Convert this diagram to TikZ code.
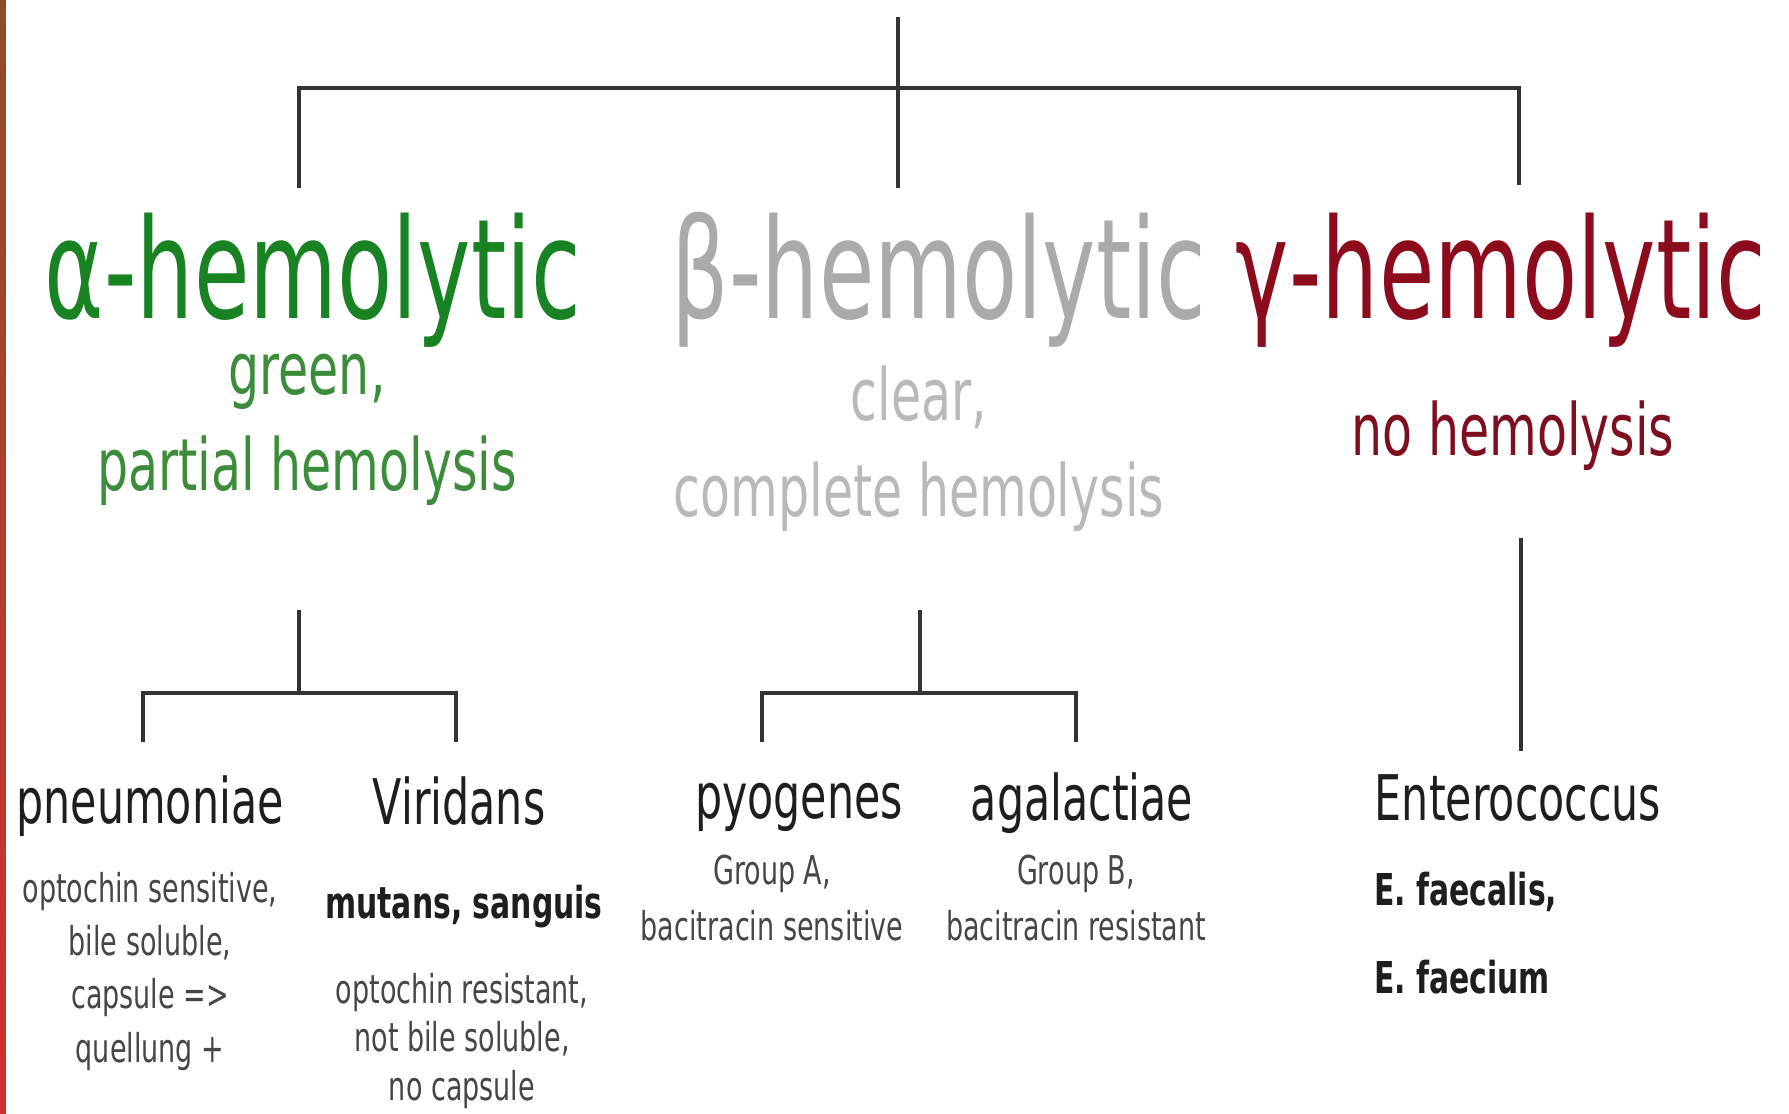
\documentclass[tikz,border=0pt]{standalone}
\usepackage{fontspec}
\usepackage{tikz}
\newfontfamily\hemofont[FakeStretch=0.65]{DejaVu Sans}
\newfontfamily\descfont[FakeStretch=0.68]{DejaVu Sans}
\definecolor{alphagreen}{RGB}{25,130,35}
\definecolor{alphasub}{RGB}{60,140,60}
\definecolor{betagray}{RGB}{170,170,170}
\definecolor{betasub}{RGB}{185,185,185}
\definecolor{gammared}{RGB}{140,12,30}
\definecolor{gammasub}{RGB}{125,15,30}
\definecolor{speciesgray}{RGB}{30,30,30}
\definecolor{notegray}{RGB}{70,70,70}
\definecolor{linegray}{RGB}{51,51,51}
\definecolor{stripbrown}{RGB}{143,76,36}
\definecolor{striptan}{RGB}{212,150,105}
\definecolor{stripred}{RGB}{208,48,42}

\begin{document}
\begin{tikzpicture}[semithick,inner sep=0pt]
\tikzstyle{branch} = [draw=linegray,line width=0.9pt]
\tikzstyle{hemo} = [anchor=base,font=\hemofont\fontsize{39.5}{47}\selectfont]
\tikzstyle{hemonote} = [anchor=base,align=center,font=\descfont\fontsize{20.5}{25.6}\selectfont]
\tikzstyle{species} = [anchor=base,text=speciesgray,font=\descfont\fontsize{17.9}{21}\selectfont]
\tikzstyle{testnote} = [anchor=base,align=center,text=notegray,font=\descfont\fontsize{11.3}{15.1}\selectfont]
\tikzstyle{boldnote} = [anchor=base,text=speciesgray,font=\descfont\bfseries\fontsize{12.5}{15}\selectfont]
    \fill[white] (0,0) rectangle (17.89,-11.14);
    \useasboundingbox (0,0) rectangle (17.89,-11.14);
    \shade[top color=stripbrown,middle color=striptan,bottom color=stripred] (0,0) rectangle (0.06,-11.14);

    \node[hemo,text=alphagreen] (alpha) at (3.13,-3.18) {α-hemolytic};
    \node[hemo,text=betagray] (beta) at (9.39,-3.18) {β-hemolytic};
    \node[hemo,text=gammared] (gamma) at (15.01,-3.18) {γ-hemolytic};
    \node[hemonote,text=alphasub] (alphanote) at (3.07,-4.90) {green,\\[1.5pt]partial hemolysis};
    \node[hemonote,text=betasub] (betanote) at (9.19,-5.16) {clear,\\[1.5pt]complete hemolysis};
    \node[hemonote,text=gammasub] (gammanote) at (15.13,-4.55) {no hemolysis};

    \node[species] (pneumo) at (1.50,-8.23) {pneumoniae};
    \node[species] (viridans) at (4.59,-8.24) {Viridans};
    \node[species] (pyogenes) at (7.99,-8.18) {pyogenes};
    \node[species] (agalact) at (10.82,-8.20) {agalactiae};
    \node[species] (entero) at (15.18,-8.20) {Enterococcus};

    \node[testnote] (pneumonote) at (1.50,-10.62) {optochin sensitive,\\bile soluble,\\capsule =>\\quellung +};
    \node[boldnote] (viridbold) at (4.64,-9.18) {mutans, sanguis};
    \node[testnote] (viridnote) at (4.62,-11.00) {optochin resistant,\\[-1.3pt]not bile soluble,\\[-1.3pt]no capsule};
    \node[testnote] (pyonote) at (7.72,-9.40) {Group A,\\[0.6pt]bacitracin sensitive};
    \node[testnote] (agalnote) at (10.76,-9.40) {Group B,\\[0.6pt]bacitracin resistant};
    \node[boldnote,anchor=base west,align=left] (enteronote) at (13.73,-9.93) {E. faecalis,\\[10pt]E. faecium};

    \coordinate (top) at (8.98,-0.17);
    \coordinate (hub) at (8.98,-0.88);
    \coordinate (aup) at (2.99,-1.88);
    \coordinate (bup) at (8.98,-1.88);
    \coordinate (gup) at (15.19,-1.85);
    \draw[branch] (aup) |- (hub) -| (gup);
    \draw[branch] (top) -- (bup);

    \coordinate (alow) at (2.99,-6.10);
    \coordinate (ahub) at (2.99,-6.93);
    \coordinate (pnup) at (1.43,-7.42);
    \coordinate (viup) at (4.56,-7.42);
    \draw[branch] (alow) -- (ahub);
    \draw[branch] (pnup) |- (ahub) -| (viup);

    \coordinate (blow) at (9.20,-6.10);
    \coordinate (bhub) at (9.20,-6.93);
    \coordinate (pyup) at (7.62,-7.42);
    \coordinate (agup) at (10.76,-7.42);
    \draw[branch] (blow) -- (bhub);
    \draw[branch] (pyup) |- (bhub) -| (agup);

    \coordinate (glow) at (15.21,-5.38);
    \coordinate (gdown) at (15.21,-7.51);
    \draw[branch] (glow) -- (gdown);
\end{tikzpicture}
\end{document}
